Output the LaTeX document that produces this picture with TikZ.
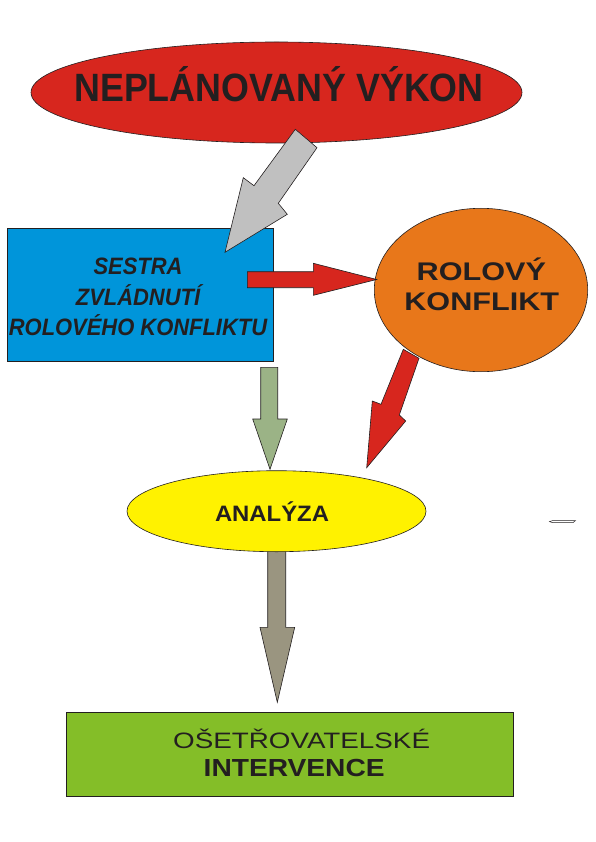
\documentclass[tikz,border=0pt]{standalone}
\usepackage{fontspec}
\setmainfont{Liberation Sans}
\usepackage{graphicx}
\usetikzlibrary{shapes.geometric}
\definecolor{nred}{RGB}{215,38,30}
\definecolor{ngray}{RGB}{192,192,192}
\definecolor{nblue}{RGB}{0,149,218}
\definecolor{norange}{RGB}{232,119,26}
\definecolor{nyellow}{RGB}{255,242,0}
\definecolor{nsage}{RGB}{155,179,134}
\definecolor{ntaupe}{RGB}{154,149,128}
\definecolor{ngreen}{RGB}{132,190,40}
\definecolor{ntext}{RGB}{35,31,32}
\begin{document}
\begin{tikzpicture}[x=1pt,y=-1pt,
  outl/.style={draw=ntext,line width=0.6pt},
  shapebox/.style={outl,inner sep=0pt,outer sep=0pt},
  blockarrow/.style={outl,line join=miter},
  lbl/.style={anchor=base,inner sep=0pt,outer sep=0pt,text=ntext}]
\useasboundingbox (0,0) rectangle (596,842);

% shapes
\node[shapebox,ellipse,fill=nred,minimum width=491pt,minimum height=101pt] (vykon) at (276.5,92.5) {};
\node[shapebox,rectangle,fill=nblue,minimum width=266pt,minimum height=133pt] (sestra) at (140,294.5) {};
\node[shapebox,ellipse,fill=norange,minimum width=213.4pt,minimum height=163.4pt] (konflikt) at (481,290) {};
\draw[blockarrow,fill=ntaupe] (267.7,545) -- (285.7,545) -- (285.7,627.3) -- (294.7,627.3) -- (277.3,702.3) -- (260,627.3) -- (267.7,627.3) -- cycle;
\node[shapebox,ellipse,fill=nyellow,minimum width=299pt,minimum height=81pt] (analyza) at (276.5,511.2) {};
\node[shapebox,rectangle,fill=ngreen,minimum width=447pt,minimum height=83.7pt] (intervence) at (289.5,754.2) {};

% block arrows
\draw[blockarrow,fill=ngray] (295.3,129.3) -- (317,147.7) -- (278.3,203.3) -- (287.3,214.3) -- (225,252.3) -- (243.3,177.7) -- (254,185.7) -- cycle;
\draw[blockarrow,fill=nred] (247.3,271.7) -- (313.3,271.7) -- (313.3,263.3) -- (376.7,279.5) -- (313.3,295.3) -- (313.3,287.7) -- (247.3,287.7) -- cycle;
\draw[blockarrow,fill=nred] (403.3,349.3) -- (419,358.3) -- (399.3,415) -- (405.7,421) -- (366.7,467.7) -- (372.3,401) -- (381,404.3) -- cycle;
\draw[blockarrow,fill=nsage] (260.7,367.3) -- (277.7,367.3) -- (277.7,419) -- (287.3,419) -- (270,469.3) -- (252.7,419) -- (260.7,419) -- cycle;

% small dash
\draw[outl,line width=0.5pt,fill=white] (549.5,521.6) -- (552.5,520.6) -- (575.5,520.6) -- (573,522.6) -- (552.5,522.6) -- cycle;

% texts
\node[lbl,font=\fontsize{39.5}{40}\selectfont\bfseries] (t1) at (279,101.7) {\scalebox{0.907}[1]{NEPLÁNOVANÝ VÝKON}};

\node[lbl,font=\fontsize{23.7}{24}\selectfont\bfseries\itshape] (t2a) at (138,274.3) {\scalebox{0.925}[1]{SESTRA}};
\node[lbl,font=\fontsize{23.7}{24}\selectfont\bfseries\itshape] (t2b) at (138,305) {\scalebox{0.925}[1]{ZVLÁDNUTÍ}};
\node[lbl,font=\fontsize{23.7}{24}\selectfont\bfseries\itshape] (t2c) at (138,335.7) {\scalebox{0.925}[1]{ROLOVÉHO KONFLIKTU}};

\node[lbl,font=\fontsize{25.5}{26}\selectfont\bfseries] (t3a) at (481.3,280.7) {\scalebox{1.2}[1]{ROLOVÝ}};
\node[lbl,font=\fontsize{25.5}{26}\selectfont\bfseries] (t3b) at (481.7,310.7) {\scalebox{1.2}[1]{KONFLIKT}};

\node[lbl,font=\fontsize{22.3}{23}\selectfont\bfseries] (t4) at (272,521) {\scalebox{1.07}[1]{ANALÝZA}};

\node[lbl,font=\fontsize{22.3}{23}\selectfont] (t5a) at (301.6,748.3) {\scalebox{1.246}[1]{OŠETŘOVATELSKÉ}};
\node[lbl,font=\fontsize{24.7}{25}\selectfont\bfseries] (t5b) at (294.2,776) {\scalebox{1.14}[1]{INTERVENCE}};
\end{tikzpicture}
\end{document}
